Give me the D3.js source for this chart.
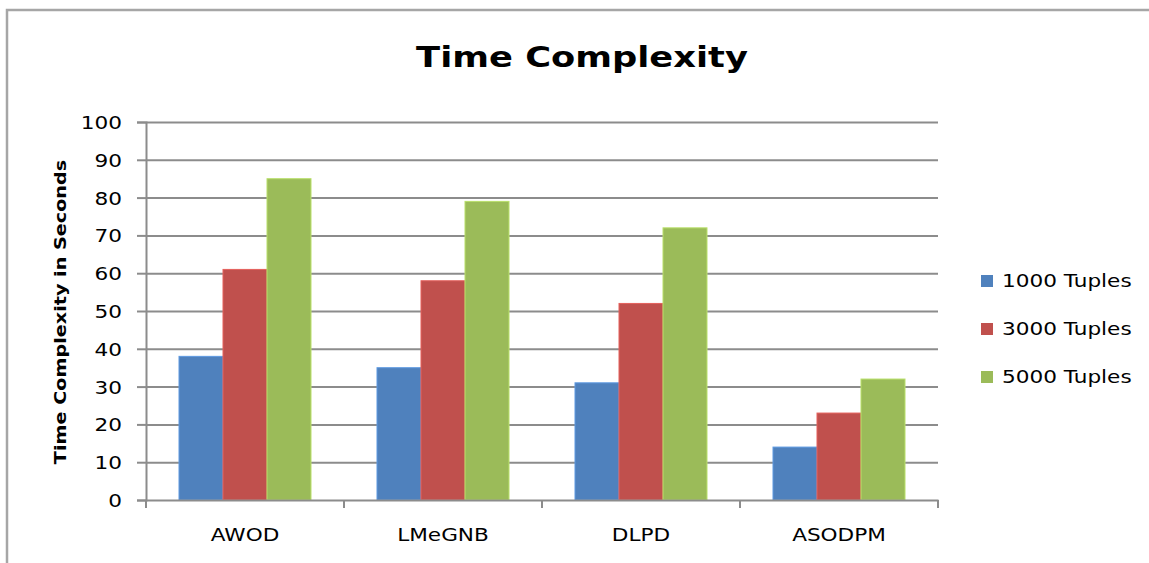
<!DOCTYPE html>
<html>
<head>
<meta charset="utf-8">
<script src="https://cdn.jsdelivr.net/npm/d3@7"></script>
<style>
  html, body { margin: 0; padding: 0; background: #fff; }
  svg { display: block; }
  text { font-family: "DejaVu Sans", Verdana, sans-serif; fill: #000; }
</style>
</head>
<body>
<svg id="chart" width="1149" height="563"></svg>
<script>
const title = "Time Complexity";
const yAxisTitle = "Time Complexity in Seconds";
const categories = ["AWOD", "LMeGNB", "DLPD", "ASODPM"];
const seriesNames = ["1000 Tuples", "3000 Tuples", "5000 Tuples"];
const tuples1000 = [38, 35, 31, 14];
const tuples3000 = [61, 58, 52, 23];
const tuples5000 = [85, 79, 72, 32];
const yTicks = [0, 10, 20, 30, 40, 50, 60, 70, 80, 90, 100];
const colors = ["#4F81BD", "#C0504D", "#9BBB59"];

const seriesValues = [tuples1000, tuples3000, tuples5000];
const rows = categories.map((c, i) => ({
  category: c,
  values: seriesNames.map((s, j) => ({ series: s, value: seriesValues[j][i], color: colors[j] }))
}));

const svg = d3.select("#chart");
const plot = { left: 146, right: 938, top: 122, bottom: 500 };
const SX = 1.2; // horizontal text stretch

// outer border (open on right and bottom, as in reference)
svg.append("rect")
  .attr("x", 7).attr("y", 10).attr("width", 1300).attr("height", 700)
  .attr("fill", "none").attr("stroke", "#a6a6a6").attr("stroke-width", 2.5);

const x0 = d3.scaleBand().domain(categories).range([plot.left, plot.right]).paddingInner(0).paddingOuter(0);
const x1 = d3.scaleBand().domain(seriesNames).range([0, x0.bandwidth()]).paddingInner(0).paddingOuter(0.75);
const y = d3.scaleLinear().domain([0, 100]).range([plot.bottom, plot.top]);

// gridlines
const grid = svg.append("g").attr("transform", `translate(${plot.left},0)`)
  .call(d3.axisRight(y).tickValues(yTicks.filter(t => t > 0)).tickSize(plot.right - plot.left).tickFormat(""));
grid.select(".domain").remove();
grid.selectAll("line").attr("stroke", "#8c8c8c").attr("stroke-width", 2);

// bars
const groups = svg.append("g").selectAll("g").data(rows).join("g")
  .attr("transform", d => `translate(${x0(d.category)},0)`);
groups.selectAll("rect").data(d => d.values).join("rect")
  .attr("x", d => x1(d.series))
  .attr("width", x1.bandwidth())
  .attr("y", d => y(d.value))
  .attr("height", d => y(0) - y(d.value))
  .attr("fill", d => d.color)
  .attr("stroke", d => d3.color(d.color).brighter(0.5))
  .attr("stroke-width", 1);

// y axis
const yAxis = svg.append("g").attr("transform", `translate(${plot.left},0)`)
  .call(d3.axisLeft(y).tickValues(yTicks).tickSize(9).tickPadding(0));
yAxis.select(".domain").attr("stroke", "#8c8c8c").attr("stroke-width", 2);
yAxis.selectAll(".tick line").attr("stroke", "#8c8c8c").attr("stroke-width", 2);
yAxis.selectAll(".tick text")
  .attr("x", 0)
  .attr("dy", "0.36em")
  .attr("transform", `translate(-24,0) scale(${SX},1)`)
  .style("font-size", "18px")
  .style("font-family", "'DejaVu Sans', Verdana, sans-serif")
  .attr("fill", "#000");

// x axis (labels at centers)
const xAxis = svg.append("g").attr("transform", `translate(0,${plot.bottom})`)
  .call(d3.axisBottom(x0).tickSize(0).tickPadding(0));
xAxis.select(".domain").attr("stroke", "#8c8c8c").attr("stroke-width", 2);
xAxis.selectAll(".tick text")
  .attr("y", 0).attr("dy", 0)
  .attr("transform", `translate(0,41) scale(${SX},1)`)
  .style("font-size", "18px")
  .style("font-family", "'DejaVu Sans', Verdana, sans-serif")
  .attr("fill", "#000");
// boundary tick marks
const boundaries = categories.map(c => x0(c)).concat([x0.range()[1]]);
xAxis.selectAll(".bound").data(boundaries).join("line")
  .attr("class", "bound")
  .attr("x1", d => d).attr("x2", d => d)
  .attr("y1", 0).attr("y2", 8)
  .attr("stroke", "#8c8c8c").attr("stroke-width", 2);

// title
svg.append("text")
  .attr("transform", `translate(582,67) scale(1.26,1)`)
  .attr("text-anchor", "middle")
  .style("font-size", "28px").style("font-weight", "bold")
  .text(title);

// y axis title
svg.append("text")
  .attr("transform", `translate(66,312) rotate(-90) scale(1.2,1)`)
  .attr("text-anchor", "middle")
  .style("font-size", "16px").style("font-weight", "bold")
  .text(yAxisTitle);

// legend
const legend = svg.append("g");
const legendY = d3.scalePoint().domain(seriesNames).range([281, 377]);
const li = legend.selectAll("g").data(seriesNames).join("g")
  .attr("transform", d => `translate(981,${legendY(d)})`);
li.append("rect").attr("x", 0).attr("y", -6).attr("width", 12).attr("height", 12)
  .attr("fill", (d, i) => colors[i]);
li.append("text")
  .attr("transform", `translate(21,0) scale(${SX},1)`)
  .attr("dy", "0.36em")
  .style("font-size", "18px")
  .text(d => d);
</script>
</body>
</html>
